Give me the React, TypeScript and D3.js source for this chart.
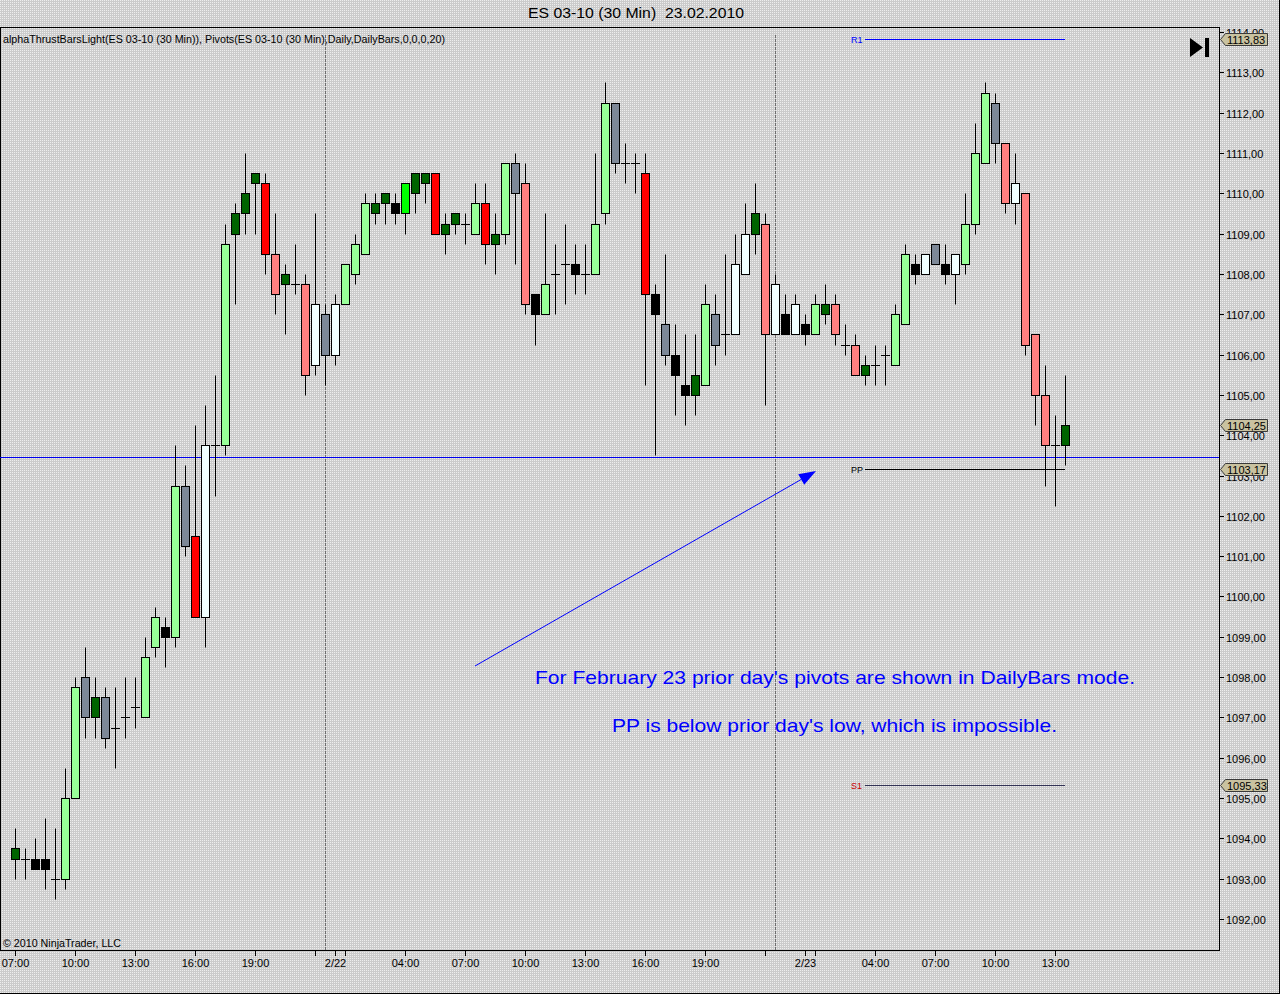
import React from "react";
import * as d3 from "d3";

// ---- Data (30-min bars, ES 03-10) ----
const opens = [
  1093.5, 1093.5, 1093.5, 1093.5, 1093.0, 1093.0, 1095.0, 1098.0, 1097.0, 1097.5,
  1096.75, 1097.0, 1097.25, 1097.0, 1098.75, 1099.25, 1099.0, 1102.75, 1101.5, 1099.5,
  1103.75, 1103.75, 1109.0, 1109.5, 1110.25, 1110.25, 1108.5, 1107.75, 1107.75, 1107.75,
  1105.75, 1107.0, 1106.0, 1107.25, 1108.0, 1108.5, 1109.5, 1109.75, 1109.75, 1109.5,
  1110.0, 1110.25, 1110.5, 1109.0, 1109.25, 1109.25, 1109.0, 1109.75, 1108.75, 1109.0,
  1110.75, 1110.25, 1107.5, 1107.0, 1108.0, 1108.25, 1108.25, 1108.0, 1108.0, 1109.5,
  1112.25, 1110.75, 1110.75, 1110.5, 1107.5, 1106.75, 1106.0, 1105.25, 1105.0, 1105.25,
  1107.0, 1106.5, 1106.5, 1108.0, 1109.0, 1109.25, 1106.5, 1107.0, 1106.5, 1106.75,
  1106.5, 1107.0, 1107.25, 1106.25, 1106.25, 1105.5, 1105.75, 1106.0, 1105.75, 1106.75,
  1108.25, 1108.0, 1108.75, 1108.25, 1108.0, 1108.25, 1109.25, 1110.75, 1112.25, 1111.25,
  1109.75, 1110.0, 1106.5, 1105.0, 1103.75, 1103.75,
];
const highs = [
  1094.25, 1093.75, 1094.0, 1094.5, 1094.25, 1095.75, 1098.0, 1098.75, 1098.0, 1097.75,
  1097.75, 1098.0, 1098.0, 1099.0, 1099.75, 1099.5, 1103.75, 1103.25, 1104.25, 1104.75,
  1105.5, 1109.25, 1109.75, 1111.0, 1110.5, 1110.5, 1109.5, 1108.25, 1108.75, 1108.0,
  1109.5, 1107.25, 1107.5, 1108.25, 1109.0, 1110.0, 1110.0, 1110.0, 1110.0, 1110.25,
  1110.5, 1110.5, 1110.5, 1109.5, 1109.5, 1109.5, 1110.25, 1110.25, 1109.5, 1110.75,
  1111.0, 1110.75, 1107.5, 1109.5, 1108.75, 1109.25, 1108.75, 1108.75, 1111.0, 1112.75,
  1112.25, 1111.25, 1111.0, 1111.0, 1107.75, 1108.5, 1106.75, 1106.5, 1106.5, 1107.75,
  1107.5, 1108.5, 1109.0, 1109.75, 1110.25, 1109.5, 1108.0, 1107.5, 1107.5, 1107.0,
  1107.5, 1107.75, 1107.5, 1106.75, 1106.5, 1106.0, 1106.25, 1106.25, 1107.25, 1108.75,
  1108.5, 1108.5, 1108.75, 1108.75, 1108.5, 1110.0, 1111.75, 1112.75, 1112.5, 1111.25,
  1111.0, 1110.0, 1106.5, 1105.75, 1104.5, 1105.5,
];
const lows = [
  1093.0, 1093.0, 1093.25, 1092.75, 1092.5, 1092.75, 1095.0, 1096.5, 1096.5, 1096.25,
  1095.75, 1096.5, 1096.75, 1097.0, 1098.5, 1098.25, 1098.75, 1101.0, 1099.5, 1098.75,
  1102.5, 1103.5, 1107.25, 1109.0, 1109.0, 1108.0, 1107.0, 1106.5, 1107.5, 1105.0,
  1105.5, 1105.25, 1105.75, 1107.25, 1107.75, 1108.5, 1109.25, 1109.25, 1109.25, 1109.0,
  1109.5, 1109.75, 1109.0, 1108.5, 1109.0, 1108.75, 1109.0, 1108.25, 1108.0, 1108.75,
  1108.25, 1107.0, 1106.25, 1107.0, 1107.0, 1107.25, 1107.5, 1107.5, 1108.0, 1109.25,
  1110.5, 1110.25, 1110.0, 1105.25, 1103.5, 1105.75, 1104.5, 1104.25, 1104.5, 1105.25,
  1105.75, 1106.0, 1106.5, 1108.0, 1108.5, 1104.75, 1106.5, 1106.5, 1106.5, 1106.25,
  1106.5, 1106.75, 1106.25, 1106.0, 1105.5, 1105.25, 1105.25, 1105.25, 1105.75, 1106.75,
  1107.75, 1108.0, 1108.25, 1107.75, 1107.25, 1108.0, 1109.0, 1110.75, 1110.75, 1109.5,
  1109.25, 1106.0, 1104.25, 1102.75, 1102.25, 1103.25,
];
const closes = [
  1093.75, 1093.5, 1093.25, 1093.25, 1093.0, 1095.0, 1097.75, 1097.0, 1097.5, 1096.5,
  1096.75, 1097.0, 1097.25, 1098.5, 1099.5, 1099.0, 1102.75, 1101.25, 1099.5, 1103.75,
  1103.75, 1108.75, 1109.5, 1110.0, 1110.5, 1108.5, 1107.5, 1108.0, 1107.75, 1105.5,
  1107.25, 1106.0, 1107.25, 1108.25, 1108.75, 1109.75, 1109.75, 1110.0, 1109.5, 1110.25,
  1110.5, 1110.5, 1109.0, 1109.25, 1109.5, 1109.25, 1109.75, 1108.75, 1109.0, 1110.75,
  1110.0, 1107.25, 1107.0, 1107.75, 1108.0, 1108.25, 1108.0, 1108.0, 1109.25, 1112.25,
  1110.75, 1110.75, 1110.75, 1107.5, 1107.0, 1106.0, 1105.5, 1105.0, 1105.5, 1107.25,
  1106.25, 1106.5, 1108.25, 1109.0, 1109.5, 1106.5, 1107.75, 1106.5, 1107.25, 1106.5,
  1107.25, 1107.25, 1106.5, 1106.25, 1105.5, 1105.75, 1105.75, 1106.0, 1107.0, 1108.5,
  1108.0, 1108.5, 1108.25, 1108.0, 1108.5, 1109.25, 1111.0, 1112.5, 1111.25, 1109.75,
  1110.25, 1106.25, 1105.0, 1103.75, 1103.75, 1104.25,
];
// alphaThrust bar colour codes
const barColors = [
  "dg", "x", "k", "k", "x", "lg", "lg", "gr", "dg", "gr",
  "x", "x", "x", "lg", "lg", "k", "lg", "gr", "r", "w",
  "x", "lg", "dg", "dg", "dg", "r", "lr", "dg", "x", "lr",
  "w", "gr", "w", "lg", "lg", "lg", "dg", "dg", "k", "g",
  "dg", "dg", "r", "dg", "dg", "x", "lg", "r", "dg", "lg",
  "gr", "lr", "k", "lg", "x", "x", "k", "x", "lg", "lg",
  "gr", "x", "x", "r", "k", "gr", "k", "k", "dg", "lg",
  "gr", "x", "w", "w", "dg", "lr", "w", "k", "w", "k",
  "lg", "dg", "lr", "x", "lr", "dg", "x", "x", "lg", "lg",
  "k", "w", "gr", "k", "w", "lg", "lg", "lg", "gr", "lr",
  "w", "lr", "lr", "lr", "x", "dg",
];

const xTickIndex = [0, 6, 12, 18, 24, 30, 32, 33, 39, 45, 51, 57, 63, 69, 75, 79, 80, 86, 92, 98, 104];
const xTickLabels = ["07:00", "10:00", "13:00", "16:00", "19:00", "", "2/22", "", "04:00", "07:00", "10:00", "13:00", "16:00", "19:00", "", "2/23", "", "04:00", "07:00", "10:00", "13:00"];
const sessionBreaks = [31, 76];
const yTicks = [1092, 1093, 1094, 1095, 1096, 1097, 1098, 1099, 1100, 1101, 1102, 1103, 1104, 1105, 1106, 1107, 1108, 1109, 1110, 1111, 1112, 1113, 1114];

const pivotNames = ["R1", "PP", "S1"];
const pivotValues = [1113.83, 1103.17, 1095.33];
const pivotColors = ["#0000ff", "#000000", "#cc0000"];
const pivotLineColors = ["#0000ff", "#000000", "#333355"];
const pivotStart = 85;
const priorLow = 1103.45;
const lastPrice = 1104.25;

const COLORS: Record<string, string> = {
  lg: "#99ff99",
  g: "#00ff00",
  dg: "#006400",
  r: "#ff0000",
  lr: "#ff8080",
  k: "#000000",
  gr: "#7d8897",
  w: "#f0ffff",
  x: "#000000",
};

const W = 1280;
const H = 994;
const PL = 0, PR = 1219, PT = 27, PB = 950;
const FONT = "'Liberation Sans', Arial, sans-serif";

const fmt = (v: number) => d3.format(".2f")(v).replace(".", ",");
const px = (v: number) => Math.round(v) + 0.5;

export default function App() {
  const x = d3.scaleLinear().domain([0, 105]).range([15, 1065]);
  const y = d3.scaleLinear().domain([1092, 1113]).range([919, 72.4]);

  const tag = (v: number, key: string) => {
    const cy = Math.round(y(v));
    const t = cy - 6, b = cy + 6;
    const pts = `${1220.5},${cy + 0.5} ${1225.5},${t + 0.5} ${1267.5},${t + 0.5} ${1267.5},${b + 0.5} ${1225.5},${b + 0.5}`;
    return (
      <g key={key}>
        <polygon points={pts} fill="#c9c2a0" stroke="#3a3a3a" strokeWidth={1} />
        <text x={1227} y={cy + 4.5} fontSize={11} fontFamily={FONT} fill="#000">{fmt(v)}</text>
      </g>
    );
  };

  // arrow geometry
  const ax1 = 475, ay1 = 666, ax2 = 816, ay2 = 471;
  const dx = ax2 - ax1, dy = ay2 - ay1;
  const len = Math.hypot(dx, dy);
  const ux = dx / len, uy = dy / len;
  const bx = ax2 - 17 * ux, by = ay2 - 17 * uy;
  const perpX = -uy * 6, perpY = ux * 6;

  return (
    <svg width={W} height={H} style={{ position: "absolute", left: 0, top: 0 }} xmlns="http://www.w3.org/2000/svg">
      <defs>
        <pattern id="bg" width={2} height={2} patternUnits="userSpaceOnUse">
          <rect width={2} height={2} fill="#cbcbcb" />
          <rect width={1} height={1} fill="#eeeeee" />
        </pattern>
        <clipPath id="plotClip">
          <rect x={PL} y={PT} width={PR - PL} height={PB - PT} />
        </clipPath>
      </defs>
      <rect x={0} y={0} width={W} height={H} fill="url(#bg)" />

      {/* title */}
      <text x={636} y={18} textAnchor="middle" fontSize={14} fontFamily={FONT} fill="#000" textLength={216} lengthAdjust="spacingAndGlyphs">{"ES 03-10 (30 Min)\u00a0 23.02.2010"}</text>

      {/* plot frame */}
      <rect x={PL + 0.5} y={PT + 0.5} width={PR - PL} height={PB - PT} fill="none" stroke="#000" />
      <line x1={1279.5} y1={0} x2={1279.5} y2={H} stroke="#000" />
      <line x1={0} y1={993.5} x2={W} y2={993.5} stroke="#000" />

      <g clipPath="url(#plotClip)">
        {/* session break lines */}
        {sessionBreaks.map((i) => (
          <line key={"sb" + i} x1={px(x(i))} x2={px(x(i))} y1={PT + 8} y2={PB} stroke="#6e6e6e" strokeDasharray="3,1" />
        ))}

        {/* prior day's low line */}
        <line x1={PL} x2={PR} y1={px(y(priorLow))} y2={px(y(priorLow))} stroke="#0000ee" />

        {/* pivots */}
        {pivotValues.map((v, k) => (
          <g key={"pv" + k}>
            <line x1={x(pivotStart)} x2={x(105)} y1={px(y(v))} y2={px(y(v))} stroke={pivotLineColors[k]} />
            <text x={x(pivotStart) - 14} y={Math.round(y(v)) + 4} fontSize={9} fontFamily={FONT} fill={pivotColors[k]}>{pivotNames[k]}</text>
          </g>
        ))}

        {/* candles */}
        {opens.map((o, i) => {
          const c = closes[i];
          const cx = Math.round(x(i));
          const col = barColors[i];
          const yh = px(y(highs[i]));
          const yl = px(y(lows[i]));
          const top = px(y(Math.max(o, c)));
          const bot = px(y(Math.min(o, c)));
          return (
            <g key={"c" + i}>
              <line x1={cx + 0.5} x2={cx + 0.5} y1={yh} y2={yl} stroke="#000" />
              {col === "x" || top === bot ? (
                <line x1={cx - 4} x2={cx + 5} y1={top} y2={top} stroke="#000" />
              ) : (
                <rect x={cx - 4 + 0.5} y={top} width={8} height={bot - top} fill={COLORS[col]} stroke="#000" />
              )}
            </g>
          );
        })}

        {/* annotation */}
        <line x1={ax1} y1={ay1} x2={bx} y2={by} stroke="#0000ff" />
        <polygon points={`${ax2},${ay2} ${bx + perpX},${by + perpY} ${bx - perpX},${by - perpY}`} fill="#0000ff" />
        <text x={535} y={684} fontSize={19} fontFamily={FONT} fill="#0000ff" textLength={600} lengthAdjust="spacingAndGlyphs">For February 23 prior day's pivots are shown in DailyBars mode.</text>
        <text x={612} y={732} fontSize={19} fontFamily={FONT} fill="#0000ff" textLength={445} lengthAdjust="spacingAndGlyphs">PP is below prior day's low, which is impossible.</text>

        {/* indicator label + copyright */}
        <text x={3} y={43} fontSize={10} fontFamily={FONT} fill="#000" textLength={442} lengthAdjust="spacingAndGlyphs">alphaThrustBarsLight(ES 03-10 (30 Min)), Pivots(ES 03-10 (30 Min),Daily,DailyBars,0,0,0,20)</text>
        <text x={3} y={947} fontSize={10} fontFamily={FONT} fill="#000" textLength={118} lengthAdjust="spacingAndGlyphs">© 2010 NinjaTrader, LLC</text>

        {/* go-to-end icon */}
        <polygon points="1190,38 1190,57 1203,47.5" fill="#000" />
        <rect x={1205} y={38} width={4} height={19} fill="#000" />
      </g>

      {/* right axis */}
      {yTicks.map((v) => {
        const yy = px(y(v));
        return (
          <g key={"yt" + v}>
            <line x1={PR} x2={PR + 5} y1={yy} y2={yy} stroke="#000" />
            <text x={1226} y={yy + 4} fontSize={11} fontFamily={FONT} fill="#000">{fmt(v)}</text>
          </g>
        );
      })}
      {tag(pivotValues[0], "tR1")}
      {tag(lastPrice, "tLast")}
      {tag(pivotValues[1], "tPP")}
      {tag(pivotValues[2], "tS1")}

      {/* bottom axis */}
      {xTickIndex.map((i, k) => {
        const xx = Math.round(x(i)) + 0.5;
        return (
          <g key={"xt" + k}>
            <line x1={xx} x2={xx} y1={PB} y2={PB + 6} stroke="#000" />
            {xTickLabels[k] && (
              <text x={xx} y={967} textAnchor="middle" fontSize={11} fontFamily={FONT} fill="#000">{xTickLabels[k]}</text>
            )}
          </g>
        );
      })}
    </svg>
  );
}
